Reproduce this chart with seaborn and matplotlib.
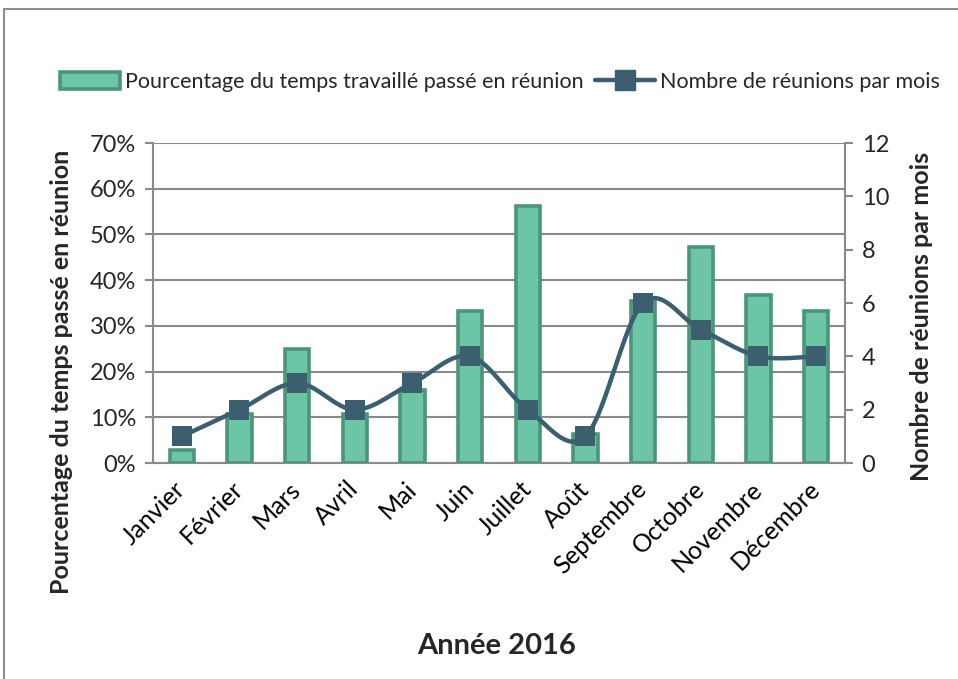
import numpy as np
import pandas as pd
import matplotlib
matplotlib.use("Agg")
import matplotlib.pyplot as plt
from matplotlib.patches import Patch, Rectangle
from matplotlib.lines import Line2D
from matplotlib.ticker import MultipleLocator, FuncFormatter
import seaborn as sns

# Data
mois = ["Janvier", "Février", "Mars", "Avril", "Mai", "Juin", "Juillet",
        "Août", "Septembre", "Octobre", "Novembre", "Décembre"]
pct_reunion = [2.8, 10.7, 25.0, 10.8, 16.0, 33.3, 56.2, 6.3, 35.5, 47.3, 36.8, 33.3]
nb_reunions = [1, 2, 3, 2, 3, 4, 2, 1, 6, 5, 4, 4]

label_bars = "Pourcentage du temps travaillé passé en réunion"
label_line = "Nombre de réunions par mois"
ylabel_left = "Pourcentage du temps passé en réunion"
ylabel_right = "Nombre de réunions par mois"
xlabel = "Année 2016"

BAR_FACE = "#6cc6a6"
BAR_EDGE = "#4c957b"
LINE_COL = "#3b5f6e"
GRID_COL = "#8a8a8a"
TEXT_COL = "#000000"

sns.set_style("white")
plt.rcParams["font.family"] = ["Lato", "DejaVu Sans"]

df = pd.DataFrame({"mois": mois, "pct": pct_reunion, "nb": nb_reunions})

fig = plt.figure(figsize=(9.58, 6.79), dpi=100)
ax = fig.add_axes([153 / 958, 1 - 463 / 679, (845 - 153) / 958, (463 - 143) / 679])

sns.barplot(data=df, x="mois", y="pct", ax=ax, color=BAR_FACE, width=0.42,
            edgecolor=BAR_EDGE, linewidth=2.6, saturation=1, zorder=3)

ax.set_xlim(-0.5, len(mois) - 0.5)
ax.set_ylim(0, 70)
ax.yaxis.set_major_locator(MultipleLocator(10))
ax.yaxis.set_major_formatter(FuncFormatter(lambda v, p: f"{v:.0f}%"))
ax.grid(axis="y", color=GRID_COL, linewidth=1.5, zorder=0)
ax.grid(axis="x", visible=False)
ax.set_axisbelow(True)

for side in ["left", "bottom", "right"]:
    ax.spines[side].set_color(GRID_COL)
    ax.spines[side].set_linewidth(1.5)
ax.spines["top"].set_visible(False)

# category boundary ticks on x axis
ax.set_xticks(np.arange(-0.5, len(mois), 1.0), minor=True)
ax.tick_params(axis="x", which="minor", length=7, width=1.5, color=GRID_COL, direction="out")
ax.set_xticks(range(len(mois)))
ax.set_xticklabels(mois, rotation=45, ha="right", va="center",
                   rotation_mode="anchor", fontsize=18, color=TEXT_COL)
ax.tick_params(axis="x", which="major", length=0, pad=16)
ax.tick_params(axis="y", which="major", length=6, width=1.5, color=GRID_COL,
               direction="out", labelsize=17, pad=6, left=True)
ax.set_xlabel(xlabel, fontsize=21, fontweight="bold")
ax.xaxis.set_label_coords((497 - 153) / 692, (463 - 633) / 320)
ax.set_ylabel(ylabel_left, fontsize=18, fontweight="bold", va="center")
ax.yaxis.set_label_coords((62 - 153) / 692, (463 - 372) / 320)

# secondary axis: number of meetings, drawn as a smoothed curve
ax2 = ax.twinx()
ax2.set_ylim(0, 12)
ax2.yaxis.set_major_locator(MultipleLocator(2))
ax2.tick_params(axis="y", length=6, width=1.5, color=GRID_COL, direction="out",
                labelsize=17, pad=6, right=True)
for side in ["left", "bottom", "right", "top"]:
    ax2.spines[side].set_visible(False)
ax2.set_ylabel(ylabel_right, fontsize=18, fontweight="bold", va="center")
ax2.yaxis.set_label_coords((922 - 153) / 692, (463 - 316) / 320)
ax2.grid(False)

xs = np.arange(len(nb_reunions), dtype=float)
ys = np.asarray(nb_reunions, dtype=float)
P = np.column_stack([xs, ys])
Pext = np.vstack([P[0], P, P[-1]])
curve = []
t = np.linspace(0, 1, 30)
for i in range(1, len(Pext) - 2):
    p0, p1, p2, p3 = Pext[i - 1], Pext[i], Pext[i + 1], Pext[i + 2]
    c1 = p1 + (p2 - p0) / 6.0
    c2 = p2 - (p3 - p1) / 6.0
    seg = ((1 - t) ** 3)[:, None] * p1 + (3 * (1 - t) ** 2 * t)[:, None] * c1 \
        + (3 * (1 - t) * t ** 2)[:, None] * c2 + (t ** 3)[:, None] * p2
    curve.append(seg)
curve = np.vstack(curve)
ax2.plot(curve[:, 0], curve[:, 1], color=LINE_COL, linewidth=3.2,
         solid_capstyle="round", zorder=4)
sns.scatterplot(x=xs, y=ys, ax=ax2, marker="s", s=210, color=LINE_COL,
                edgecolor=LINE_COL, linewidth=0, zorder=5)
ax2.set_xlim(-0.5, len(mois) - 0.5)

# legend
handles = [
    Patch(facecolor=BAR_FACE, edgecolor=BAR_EDGE, linewidth=2.6, label=label_bars),
    Line2D([0], [0], color=LINE_COL, linewidth=3.2, marker="s", markersize=14,
           label=label_line),
]
fig.legend(handles=handles, loc="center", bbox_to_anchor=(500 / 958, 1 - 82 / 679),
           ncol=2, frameon=False, fontsize=15.5, handlelength=2.8, handleheight=0.8,
           handletextpad=0.25, columnspacing=0.5)

# outer chart frame
fig.patches.append(Rectangle((4 / 958, -0.05), 1.2, 1 - 9 / 679 + 0.05,
                             transform=fig.transFigure, fill=False,
                             edgecolor="#8c8c8c", linewidth=1.5, clip_on=False))

fig.savefig("out.png", dpi=100)
